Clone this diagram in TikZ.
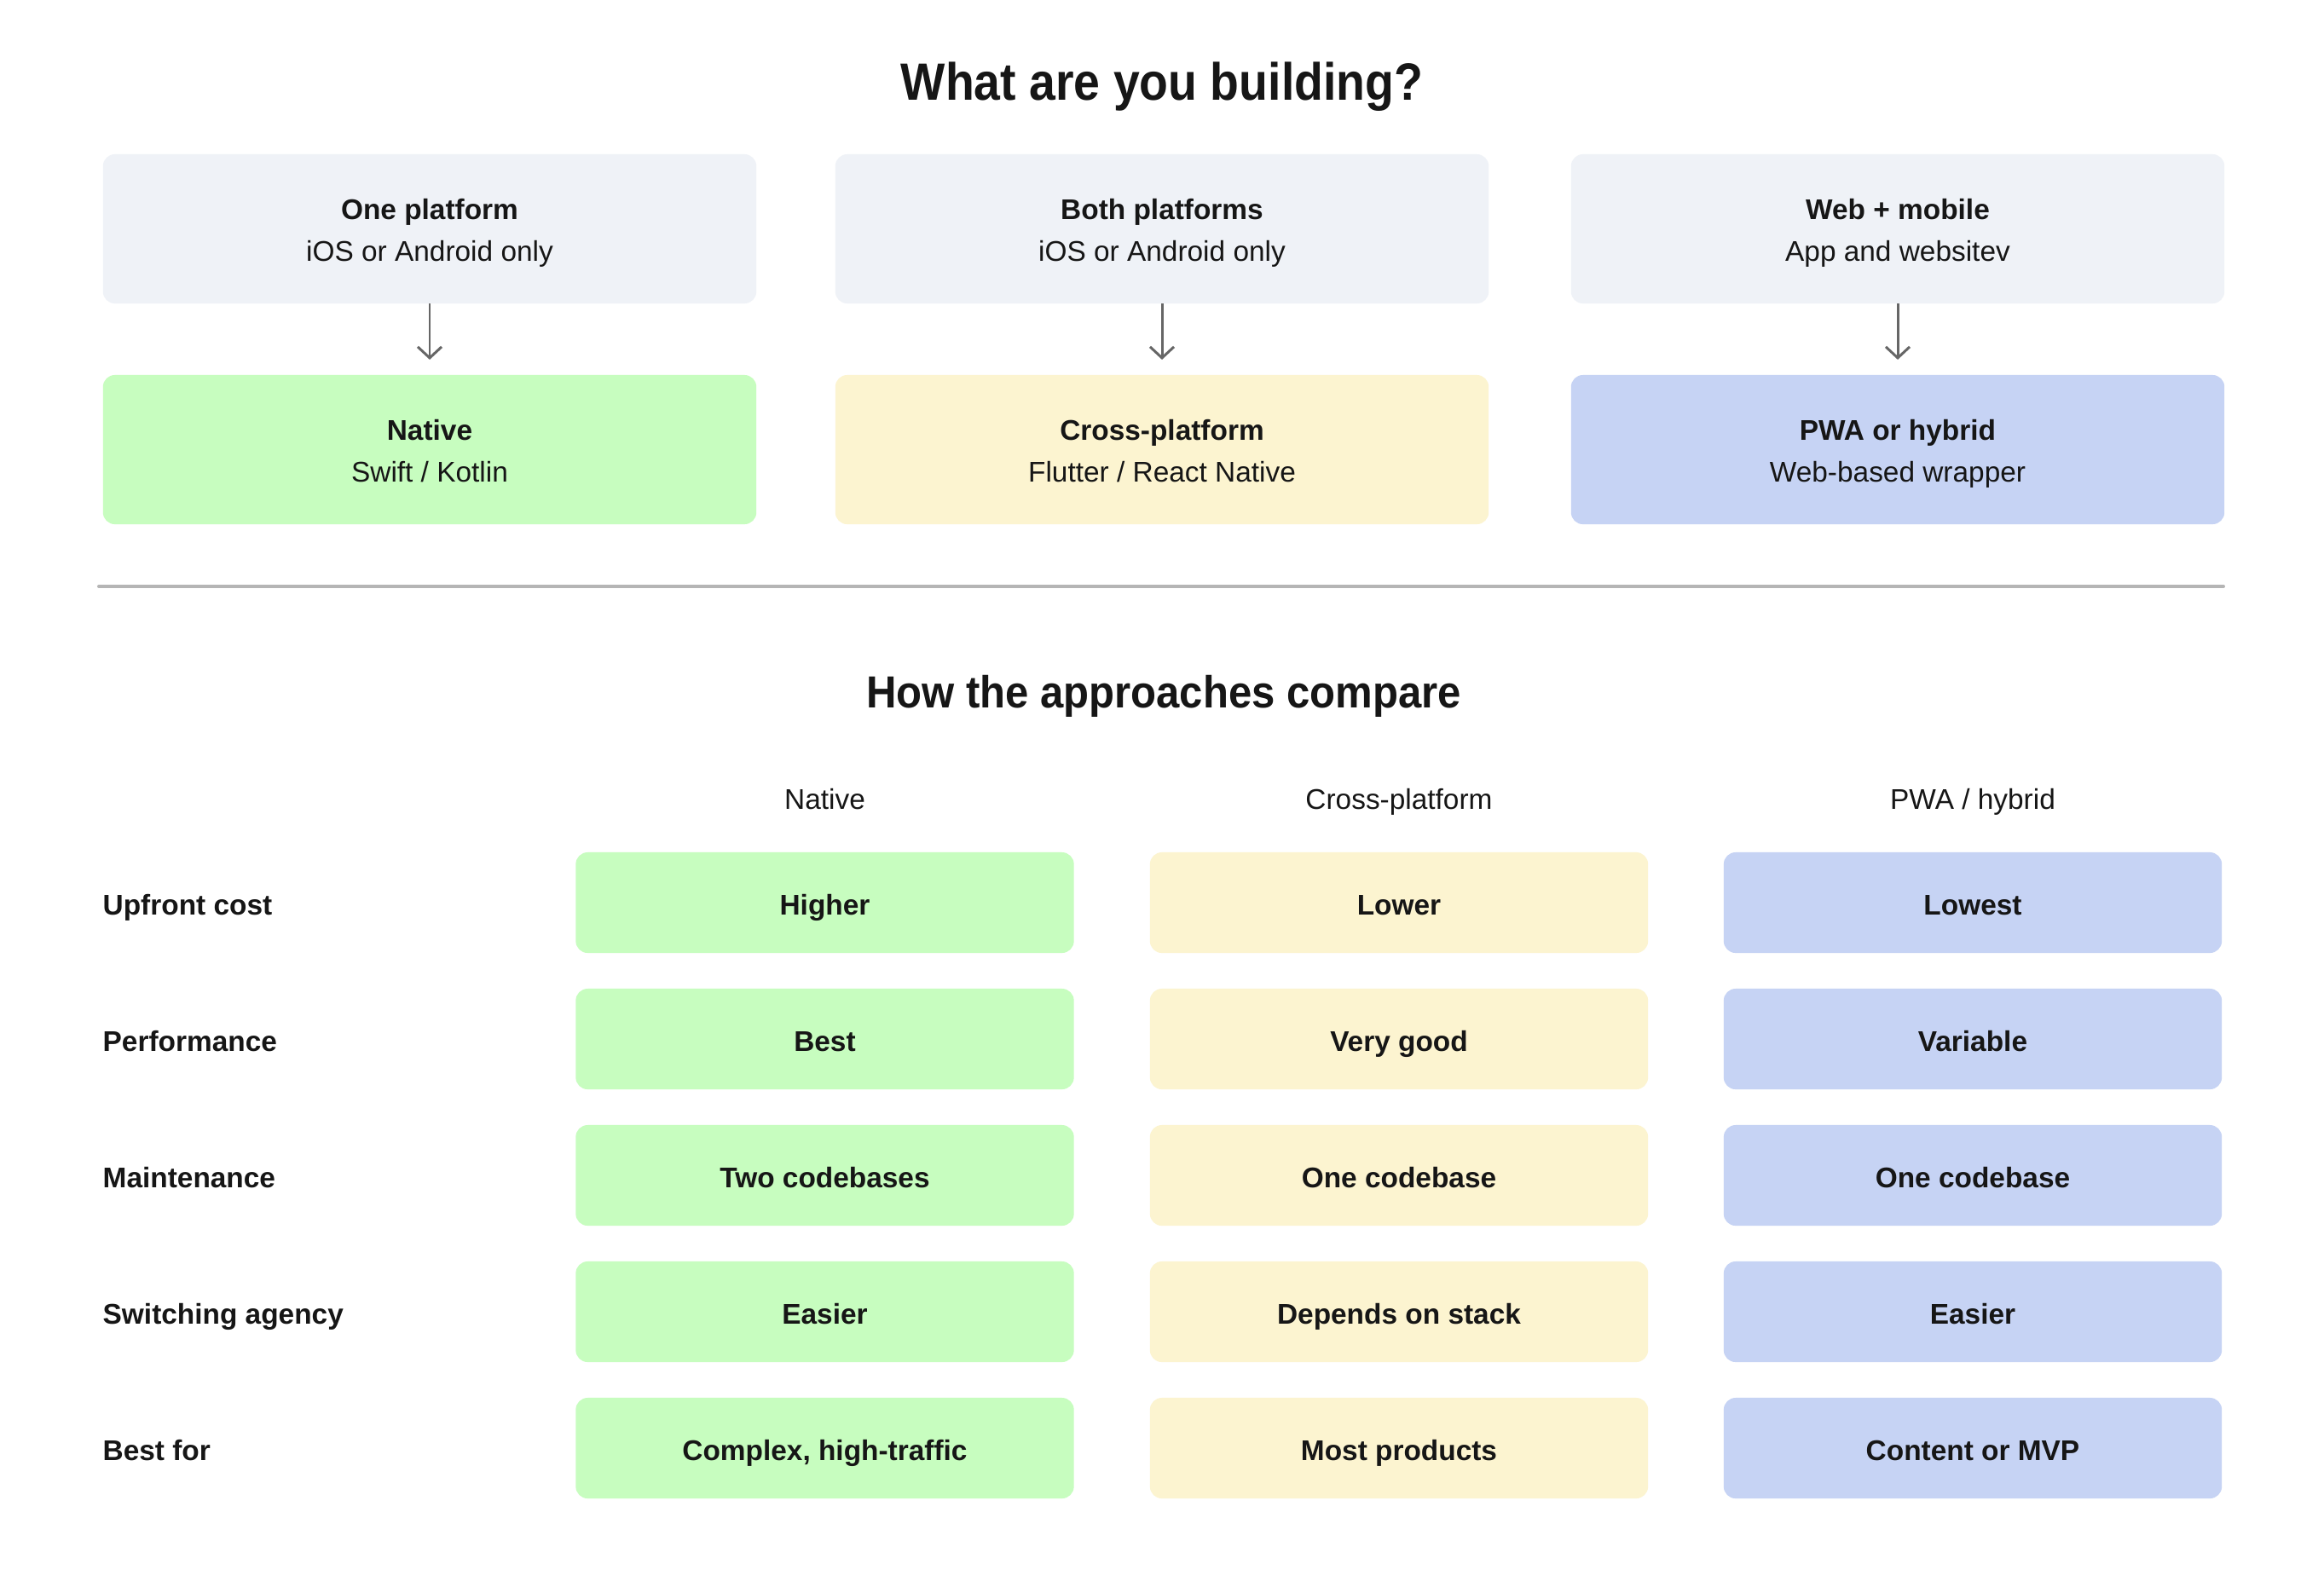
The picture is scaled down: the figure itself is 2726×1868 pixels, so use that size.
\documentclass[tikz,border=0pt]{standalone}
\usepackage{fontspec}
\setmainfont{Liberation Sans}
\newfontfamily\titlefont[FakeStretch=0.9]{Liberation Sans Bold}
\newfontfamily\subtitlefont[FakeStretch=0.93]{Liberation Sans Bold}
\usetikzlibrary{arrows.meta}
\definecolor{inkc}{HTML}{161616}
\definecolor{greyc}{HTML}{EFF2F7}
\definecolor{greenc}{HTML}{C7FDBF}
\definecolor{yellowc}{HTML}{FCF4D0}
\definecolor{bluec}{HTML}{C6D3F4}
\definecolor{arrowc}{HTML}{666666}
\definecolor{rulec}{HTML}{B5B5B5}
\newcommand{\firstln}{\rule{0pt}{9.8pt}}
\newcommand{\lastln}{\rule[-2.1pt]{0pt}{2.1pt}}
\tikzset{
  topbox/.style={rounded corners=0.14cm, minimum width=7.66cm, minimum height=1.75cm, inner sep=0pt, outer sep=0pt, align=center, font=\fontsize{9.5}{13.9}\selectfont, text=inkc},
  cell/.style={rounded corners=0.14cm, minimum width=5.84cm, minimum height=1.18cm, inner sep=0pt, outer sep=0pt, text height=8pt, text depth=0pt, font=\bfseries\fontsize{9.5}{12}\selectfont, text=inkc},
  rowlabel/.style={anchor=west, inner sep=0pt, text height=6.8pt, text depth=0pt, font=\bfseries\fontsize{9.5}{12}\selectfont, text=inkc},
  colhead/.style={inner sep=0pt, text height=6.8pt, text depth=0pt, font=\fontsize{9.5}{12}\selectfont, text=inkc},
  flow/.style={draw=arrowc, line width=0.85pt, -{Straight Barb[length=0.13cm, width=0.28cm]}, shorten >=0.18cm},
}
\begin{document}
\begin{tikzpicture}[x=0.01cm, y=-0.01cm]
\fill[white] (0,0) rectangle (2726,1868);
\useasboundingbox (0,0) rectangle (2726,1868);

% title
\node[anchor=base, inner sep=0pt, text=inkc, font=\titlefont\fontsize{17.5}{20}\selectfont] (title) at (1363,117) {What are you building?};

% top boxes
\node[topbox, fill=greyc] (q1) at (504,268.5) {\firstln{\bfseries One platform}\\iOS or Android only\lastln};
\node[topbox, fill=greyc] (q2) at (1363,268.5) {\firstln{\bfseries Both platforms}\\iOS or Android only\lastln};
\node[topbox, fill=greyc] (q3) at (2226,268.5) {\firstln{\bfseries Web + mobile}\\App and websitev\lastln};

\node[topbox, fill=greenc] (a1) at (504,527.5) {\firstln{\bfseries Native}\\Swift / Kotlin\lastln};
\node[topbox, fill=yellowc] (a2) at (1363,527.5) {\firstln{\bfseries Cross-platform}\\Flutter / React Native\lastln};
\node[topbox, fill=bluec] (a3) at (2226,527.5) {\firstln{\bfseries PWA or hybrid}\\Web-based wrapper\lastln};

\draw[flow] (q1.south) -- (a1.north);
\draw[flow] (q2.south) -- (a2.north);
\draw[flow] (q3.south) -- (a3.north);

% divider
\coordinate (dl) at (116,688);
\coordinate (dr) at (2608,688);
\draw[rulec, line width=1.14pt, line cap=round] (dl) -- (dr);

% section title
\node[anchor=base, inner sep=0pt, text=inkc, font=\subtitlefont\fontsize{15}{18}\selectfont] (sub) at (1365,830) {How the approaches compare};

% column headers
\node[colhead] (h1) at (967.5,938) {Native};
\node[colhead] (h2) at (1641,938) {Cross-platform};
\node[colhead] (h3) at (2314,938) {PWA / hybrid};

% row labels
\node[rowlabel] (r1) at (120,1062) {Upfront cost};
\node[rowlabel] (r2) at (120,1222) {Performance};
\node[rowlabel] (r3) at (120,1382) {Maintenance};
\node[rowlabel] (r4) at (120,1542) {Switching agency};
\node[rowlabel] (r5) at (120,1702) {Best for};

% cells
\node[cell, fill=greenc] (c11) at (967.5,1059) {Higher};
\node[cell, fill=yellowc] (c12) at (1641,1059) {Lower};
\node[cell, fill=bluec] (c13) at (2314,1059) {Lowest};

\node[cell, fill=greenc] (c21) at (967.5,1219) {Best};
\node[cell, fill=yellowc] (c22) at (1641,1219) {Very good};
\node[cell, fill=bluec] (c23) at (2314,1219) {Variable};

\node[cell, fill=greenc] (c31) at (967.5,1379) {Two codebases};
\node[cell, fill=yellowc] (c32) at (1641,1379) {One codebase};
\node[cell, fill=bluec] (c33) at (2314,1379) {One codebase};

\node[cell, fill=greenc] (c41) at (967.5,1539) {Easier};
\node[cell, fill=yellowc] (c42) at (1641,1539) {Depends on stack};
\node[cell, fill=bluec] (c43) at (2314,1539) {Easier};

\node[cell, fill=greenc] (c51) at (967.5,1699) {Complex, high-traffic};
\node[cell, fill=yellowc] (c52) at (1641,1699) {Most products};
\node[cell, fill=bluec] (c53) at (2314,1699) {Content or MVP};
\end{tikzpicture}
\end{document}
